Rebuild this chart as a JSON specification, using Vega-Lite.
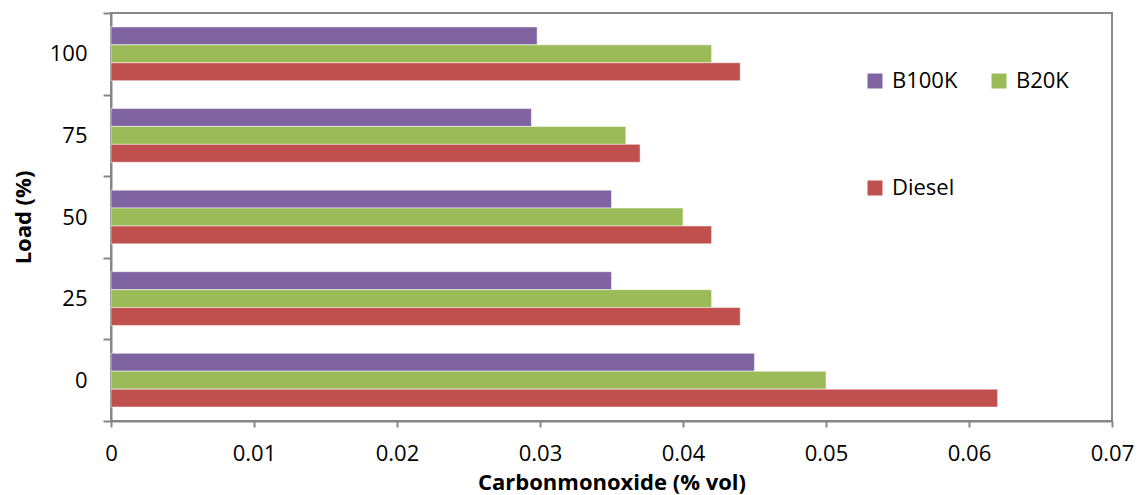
{
  "$schema": "https://vega.github.io/schema/vega-lite/v6.json",
  "autosize": {"type": "none"},
  "padding": {"left": 111, "top": 13, "right": 25, "bottom": 73},
  "width": 1001,
  "height": 408,
  "background": "white",
  "config": {
    "font": "Open Sans",
    "view": {"stroke": "#878787", "strokeWidth": 2}
  },
  "data": {
    "values": [
      {"load": "100", "fuel": "B100K", "co": 0.0298},
      {"load": "100", "fuel": "B20K", "co": 0.042},
      {"load": "100", "fuel": "Diesel", "co": 0.044},
      {"load": "75", "fuel": "B100K", "co": 0.0294},
      {"load": "75", "fuel": "B20K", "co": 0.036},
      {"load": "75", "fuel": "Diesel", "co": 0.037},
      {"load": "50", "fuel": "B100K", "co": 0.035},
      {"load": "50", "fuel": "B20K", "co": 0.040},
      {"load": "50", "fuel": "Diesel", "co": 0.042},
      {"load": "25", "fuel": "B100K", "co": 0.035},
      {"load": "25", "fuel": "B20K", "co": 0.042},
      {"load": "25", "fuel": "Diesel", "co": 0.044},
      {"load": "0", "fuel": "B100K", "co": 0.045},
      {"load": "0", "fuel": "B20K", "co": 0.050},
      {"load": "0", "fuel": "Diesel", "co": 0.062}
    ]
  },
  "mark": {"type": "bar", "stroke": "white", "strokeOpacity": 0.5, "strokeWidth": 1},
  "encoding": {
    "y": {
      "field": "load",
      "type": "nominal",
      "sort": ["100", "75", "50", "25", "0"],
      "scale": {"paddingInner": 0, "paddingOuter": 0},
      "axis": {
        "title": "Load (%)",
        "titleFontSize": 22,
        "titleFontWeight": "bold",
        "titleColor": "black",
        "titleAngle": -90,
        "titleX": -88,
        "titleY": 204,
        "titleAlign": "center",
        "titleBaseline": "middle",
        "labelFontSize": 22,
        "labelColor": "black",
        "labelPadding": 16,
        "labelAngle": 0,
        "tickBand": "extent",
        "tickSize": 8,
        "tickWidth": 2,
        "tickColor": "#878787",
        "domainColor": "#878787",
        "domainWidth": 2
      }
    },
    "yOffset": {
      "field": "fuel",
      "type": "nominal",
      "sort": ["B100K", "B20K", "Diesel"],
      "scale": {"paddingInner": 0, "paddingOuter": 0.778}
    },
    "x": {
      "field": "co",
      "type": "quantitative",
      "scale": {"domain": [0, 0.07], "nice": false},
      "axis": {
        "title": "Carbonmonoxide (% vol)",
        "titleFontSize": 22,
        "titleFontWeight": "bold",
        "titleColor": "black",
        "titleY": 68,
        "titleBaseline": "alphabetic",
        "values": [0, 0.01, 0.02, 0.03, 0.04, 0.05, 0.06, 0.07],
        "format": "~g",
        "labelFontSize": 22,
        "labelColor": "black",
        "labelPadding": 16,
        "labelFlush": false,
        "grid": false,
        "tickSize": 6,
        "tickWidth": 2,
        "tickColor": "#878787",
        "domainColor": "#878787",
        "domainWidth": 2
      }
    },
    "color": {
      "field": "fuel",
      "type": "nominal",
      "scale": {"domain": ["B100K", "Diesel", "B20K"], "range": ["#8064A2", "#C0504D", "#9BBB59"]},
      "legend": {
        "title": null,
        "orient": "none",
        "legendX": 753,
        "legendY": 57,
        "columns": 2,
        "columnPadding": 30,
        "rowPadding": 85,
        "symbolType": "square",
        "symbolSize": 225,
        "symbolStrokeWidth": 0,
        "labelFontSize": 22,
        "labelColor": "black",
        "labelOffset": 6
      }
    }
  }
}
